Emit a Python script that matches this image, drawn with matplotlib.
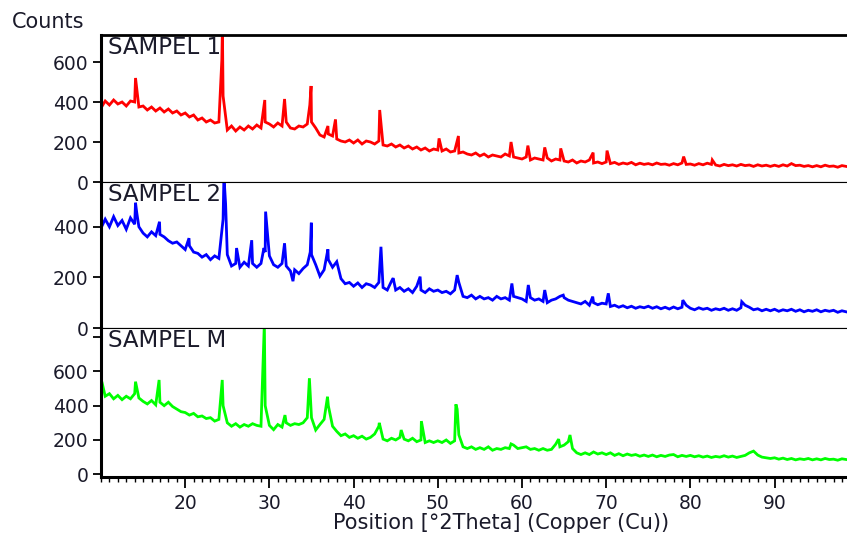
import numpy as np
import matplotlib
matplotlib.use('Agg')
import matplotlib.pyplot as plt
from matplotlib.ticker import MultipleLocator

# ---------------- data ----------------
grid_start, grid_stop, grid_step = 10.0, 98.5, 0.5   # 2theta sampling of the background points

s1_name = "SAMPEL 1"
s1_base = [370, 405, 385, 410, 390, 400, 380, 405, 400, 375,
           380, 360, 375, 355, 370, 350, 365, 345, 355, 335,
           345, 325, 335, 310, 320, 300, 310, 295, 300, 430,
           260, 280, 255, 275, 260, 280, 265, 285, 270, 300,
           290, 275, 295, 280, 300, 270, 265, 280, 275, 290,
           300, 270, 235, 225, 240, 230, 215, 205, 200, 210,
           195, 210, 190, 205, 200, 190, 205, 185, 180, 190,
           175, 185, 170, 180, 165, 175, 160, 170, 155, 165,
           160, 155, 165, 150, 155, 145, 150, 140, 135, 145,
           130, 140, 125, 135, 130, 125, 140, 130, 125, 120,
           115, 125, 110, 120, 115, 110, 120, 105, 115, 110,
           105, 100, 110, 95, 105, 100, 110, 95, 100, 92,
           100, 92, 98, 88, 95, 90, 98, 86, 94, 88,
           92, 86, 95, 88, 90, 84, 92, 86, 95, 88,
           90, 84, 92, 86, 94, 88, 85, 80, 88, 82,
           86, 80, 88, 82, 85, 78, 86, 80, 84, 78,
           84, 78, 86, 80, 92, 82, 84, 78, 82, 76,
           82, 76, 84, 78, 80, 74, 82, 78]
s1_peak_x = [14.1, 24.35, 24.42, 29.45, 31.8, 34.8, 34.95, 36.95, 37.85, 43.1,
             50.15, 52.45, 58.7, 60.7, 62.7, 64.6, 68.45, 70.1, 79.2, 82.6]
s1_peak_y = [520, 610, 770, 410, 415, 385, 480, 280, 313, 360,
             218, 230, 200, 182, 173, 168, 147, 157, 127, 110]

s2_name = "SAMPEL 2"
s2_base = [395, 430, 400, 440, 405, 425, 390, 435, 410, 400,
           375, 360, 380, 365, 370, 360, 345, 335, 340, 325,
           310, 325, 300, 295, 280, 290, 270, 285, 275, 430,
           290, 245, 255, 240, 260, 245, 255, 240, 255, 300,
           285, 250, 240, 255, 245, 225, 230, 215, 235, 250,
           290, 250, 205, 230, 270, 240, 262, 195, 175, 180,
           165, 178, 160, 175, 170, 160, 180, 160, 150, 185,
           150, 160, 145, 155, 140, 165, 150, 140, 155, 145,
           150, 140, 145, 135, 150, 180, 125, 120, 130, 115,
           125, 115, 120, 110, 125, 115, 120, 110, 125, 120,
           115, 105, 120, 110, 115, 105, 100, 110, 115, 125,
           120, 110, 105, 100, 95, 105, 90, 100, 92, 98,
           95, 85, 90, 82, 88, 80, 86, 78, 84, 80,
           86, 78, 84, 76, 82, 75, 83, 76, 82, 90,
           78, 72, 80, 74, 78, 70, 76, 72, 78, 70,
           76, 70, 80, 90, 82, 72, 76, 68, 74, 68,
           74, 66, 72, 68, 74, 66, 72, 64, 70, 66,
           72, 64, 70, 66, 70, 62, 68, 64]
s2_peak_x = [14.1, 14.25, 16.95, 20.45, 24.6, 24.8, 26.1, 27.9, 29.35, 29.55,
             31.8, 32.8, 34.85, 34.98, 36.95, 43.25, 44.7, 47.9, 52.3, 58.8,
             60.75, 62.7, 64.9, 68.4, 70.25, 79.1, 86.1]
s2_peak_y = [495, 455, 420, 355, 600, 490, 316, 347, 316, 460,
             335, 185, 300, 416, 311, 321, 197, 203, 209, 176,
             170, 150, 130, 124, 137, 110, 104]

s3_name = "SAMPEL M"
s3_base = [480, 455, 470, 440, 460, 435, 455, 440, 470, 445,
           425, 410, 430, 405, 420, 400, 420, 395, 380, 365,
           360, 345, 355, 335, 340, 325, 330, 310, 320, 400,
           300, 280, 295, 275, 290, 280, 295, 285, 280, 400,
           285, 260, 290, 275, 300, 285, 295, 290, 300, 330,
           330, 258, 290, 320, 400, 280, 250, 225, 235, 215,
           225, 210, 222, 205, 215, 235, 280, 205, 195, 210,
           200, 215, 205, 195, 210, 190, 200, 185, 195, 185,
           195, 185, 200, 180, 195, 230, 160, 150, 160, 145,
           155, 145, 160, 140, 150, 145, 155, 150, 170, 150,
           155, 160, 145, 150, 140, 150, 140, 145, 175, 160,
           170, 190, 150, 125, 115, 125, 115, 130, 118, 125,
           115, 125, 110, 120, 108, 118, 110, 115, 105, 112,
           104, 112, 102, 110, 104, 112, 115, 102, 110, 104,
           110, 102, 108, 100, 106, 98, 104, 100, 108, 100,
           106, 98, 104, 110, 125, 135, 112, 100, 96, 92,
           96, 88, 94, 86, 92, 84, 90, 86, 92, 84,
           90, 84, 92, 86, 88, 82, 90, 86]
s3_peak_x = [10.1, 14.1, 16.9, 24.4, 29.4, 31.85, 34.75, 36.9, 43.05, 45.65,
             48.05, 52.15, 52.3, 58.7, 64.35, 65.7]
s3_peak_y = [540, 540, 550, 550, 880, 345, 560, 452, 300, 258,
             310, 408, 380, 177, 205, 229]

x_ticks = [20, 30, 40, 50, 60, 70, 80, 90]
x_label = "Position [°2Theta] (Copper (Cu))"
y_label = "Counts"

# ---------------- figure ----------------
W, H = 847, 536
fig = plt.figure(figsize=(W / 100, H / 100), dpi=100)

left = 101 / W
width = 1.0 - left
panels = [
    (s1_name, s1_base, s1_peak_x, s1_peak_y, '#ff0000', 35, 182, (0, 735), [0, 200, 400, 600], ['0', '200', '400', '600']),
    (s2_name, s2_base, s2_peak_x, s2_peak_y, '#0000ff', 182, 328, (0, 577), [0, 200, 400], ['0', '200', '400']),
    (s3_name, s3_base, s3_peak_x, s3_peak_y, '#00ff00', 328, 477, (-16, 853), [0, 200, 400, 600, 800], ['0', '200', '400', '600', '']),
]

grid = np.arange(grid_start, grid_stop + grid_step / 2, grid_step)
text_col = '#1a1a2a'

for i, (name, base, pkx, pky, col, top, bot, ylim, yt, ytl) in enumerate(panels):
    ax = fig.add_axes([left, (H - bot) / H, width, (bot - top) / H])
    x = np.concatenate([grid, np.asarray(pkx, float)])
    y = np.concatenate([np.asarray(base, float), np.asarray(pky, float)])
    order = np.argsort(x, kind='stable')
    ax.plot(x[order], y[order], color=col, lw=2.0, solid_joinstyle='miter')
    ax.set_xlim(10, 98.6)
    ax.set_ylim(*ylim)
    ax.set_yticks(yt)
    ax.set_yticklabels(ytl)
    ax.tick_params(axis='y', direction='out', length=6, width=1.3, pad=3,
                   labelsize=13.5, colors='black', labelcolor=text_col)
    ax.spines['right'].set_visible(False)
    ax.spines['left'].set_linewidth(2.2)
    ax.spines['top'].set_linewidth(2.0 if i == 0 else 0.8)
    ax.spines['bottom'].set_linewidth(2.2 if i == 2 else 0.8)
    ax.text(7 / 746, 1 - 1 / (bot - top), name, transform=ax.transAxes,
            ha='left', va='top', fontsize=16.5, color=text_col)
    if i < 2:
        ax.tick_params(axis='x', which='both', bottom=False, labelbottom=False)
    else:
        ax.set_xticks(x_ticks)
        ax.xaxis.set_minor_locator(MultipleLocator(1))
        ax.tick_params(axis='x', which='major', direction='out', length=8, width=1.3,
                       pad=4, labelsize=13.5, labelcolor=text_col)
        ax.tick_params(axis='x', which='minor', direction='out', length=3.5, width=1.0)
        ax.set_xlabel(x_label, fontsize=15, color=text_col)
        ax.xaxis.set_label_coords((501 - 101) / 746, -(523 - 477) / (bot - top), transform=ax.transAxes)
        ax.xaxis.label.set_va('center')

fig.text(12 / W, (H - 22) / H, y_label, ha='left', va='center', fontsize=15, color=text_col)

fig.savefig('out.png', dpi=100)
